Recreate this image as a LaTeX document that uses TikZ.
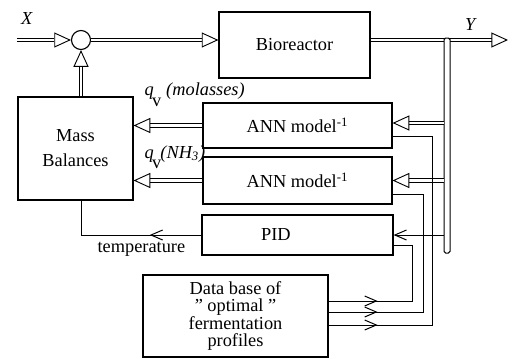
\documentclass[tikz,border=0pt]{standalone}
\usepackage{fontspec}
\setmainfont{Liberation Serif}
\usetikzlibrary{positioning,arrows.meta}

\begin{document}
\begin{tikzpicture}[x=0.6pt, y=-0.6pt,
  box/.style={draw, line width=0.7pt, inner sep=2pt, align=center,
              font=\fontsize{11}{13}\selectfont},
  dbl/.style={double, double distance=1.4pt, line width=0.55pt},
  dblarr/.style={dbl, -{Triangle[open, length=10pt, width=9pt]}},
  sarr/.style={line width=0.6pt, -{Straight Barb[length=7pt, width=6pt]}},
  wire/.style={line width=0.6pt},
  lbl/.style={font=\fontsize{11}{13}\selectfont, inner sep=1pt}]
\useasboundingbox (0,0) rectangle (514,358);
% blocks
\node[box, minimum width=90.6pt, minimum height=39.6pt] (bio) at (294.5,45) {Bioreactor};
\node[draw, circle, line width=0.7pt, minimum size=11.4pt, inner sep=0pt] (sum) at (81,40) {};
\node[box, minimum width=69pt, minimum height=61.8pt,
      font=\fontsize{11}{15}\selectfont] (mb) at (75.5,148.5) {Mass\\Balances};
\node[box, minimum width=113.4pt, minimum height=27pt] (ann1) at (297.5,125.5) {ANN model\textsuperscript{-1}};
\node[box, minimum width=113.4pt, minimum height=28.2pt] (ann2) at (297.5,180.5) {ANN model\textsuperscript{-1}};
\node[box, minimum width=114.6pt, minimum height=24pt] (pid) at (297.5,235) {PID\hspace*{26pt}};
\node[box, minimum width=111pt, minimum height=49.2pt,
      font=\fontsize{11}{10.5}\selectfont] (db) at (235.5,316) {Data base of\\" optimal "\\fermentation\\profiles};
% main line
\coordinate (xin) at (17,40);
\coordinate (yout) at (508,40);
\draw[dblarr] (xin) -- (sum);
\draw[dblarr] (sum) -- (sum -| bio.west);
\draw[dblarr] (mb.north -| sum) -- (sum);
\draw[dblarr] (bio.east |- sum) -- (yout);
\node[draw, line width=0.6pt, fill=white, rounded corners=1pt, minimum width=3.6pt,
      minimum height=129pt, inner sep=0pt] (bus) at (447,145.5) {};
\node[lbl] (xlab) at (27,18) {\textit{X}};
\node[lbl] (ylab) at (471,24) {\textit{Y}};
% feedback
\coordinate (a1in) at ([yshift=1.5pt]ann1.east);
\draw[dblarr] (a1in -| bus.west) -- (a1in);
\draw[dblarr] (ann2.east -| bus.west) -- (ann2.east);
\draw[sarr] (pid.east -| bus.west) -- (pid.east);
\draw[dblarr] (ann1.west) -- (ann1.west -| mb.east);
\draw[dblarr] (ann2.west) -- (ann2.west -| mb.east);
\node[lbl, anchor=base west] (qmol) at ([xshift=5.4pt, yshift=0.6pt]mb.north east)
  {\textit{q}\hspace{-1pt}\raisebox{-1.3ex}{v}\hspace{3pt}\textit{(molasses)}};
\node[lbl, anchor=base west] (qnh) at ([xshift=5.4pt, yshift=-5.7pt]mb.east)
  {\textit{q}\hspace{-1pt}\raisebox{-1.3ex}{v}\hspace{-0.5pt}\textit{(NH\textsubscript{3})}};
% temperature
\coordinate (tmid) at ([xshift=-31pt]pid.west);
\draw[wire] (pid.west) -- (pid.west -| sum) -- (mb.south -| sum);
\draw[sarr] (pid.west) -- (tmid);
\node[lbl, below=3pt of tmid, xshift=-5pt] (temp) {temperature};
% data base profiles
\coordinate (d1) at ([yshift=9pt]db.east);
\coordinate (d2) at ([yshift=2.4pt]db.east);
\coordinate (d3) at ([yshift=-5.4pt]db.east);
\coordinate (pout) at ([yshift=-6pt]pid.east);
\coordinate (a2out) at ([yshift=-8.1pt]ann2.east);
\coordinate (a1out) at ([yshift=-6.3pt]ann1.east);
\draw[wire] (pout) -- ++(11.4pt,0) |- (d1);
\draw[wire] (a2out) -- ++(18.6pt,0) |- (d2);
\draw[wire] (a1out) -- ++(24pt,0) |- (d3);
\foreach \d in {d1,d2,d3}
  \draw[sarr] (\d) -- ++(29.4pt,0);
\end{tikzpicture}
\end{document}
